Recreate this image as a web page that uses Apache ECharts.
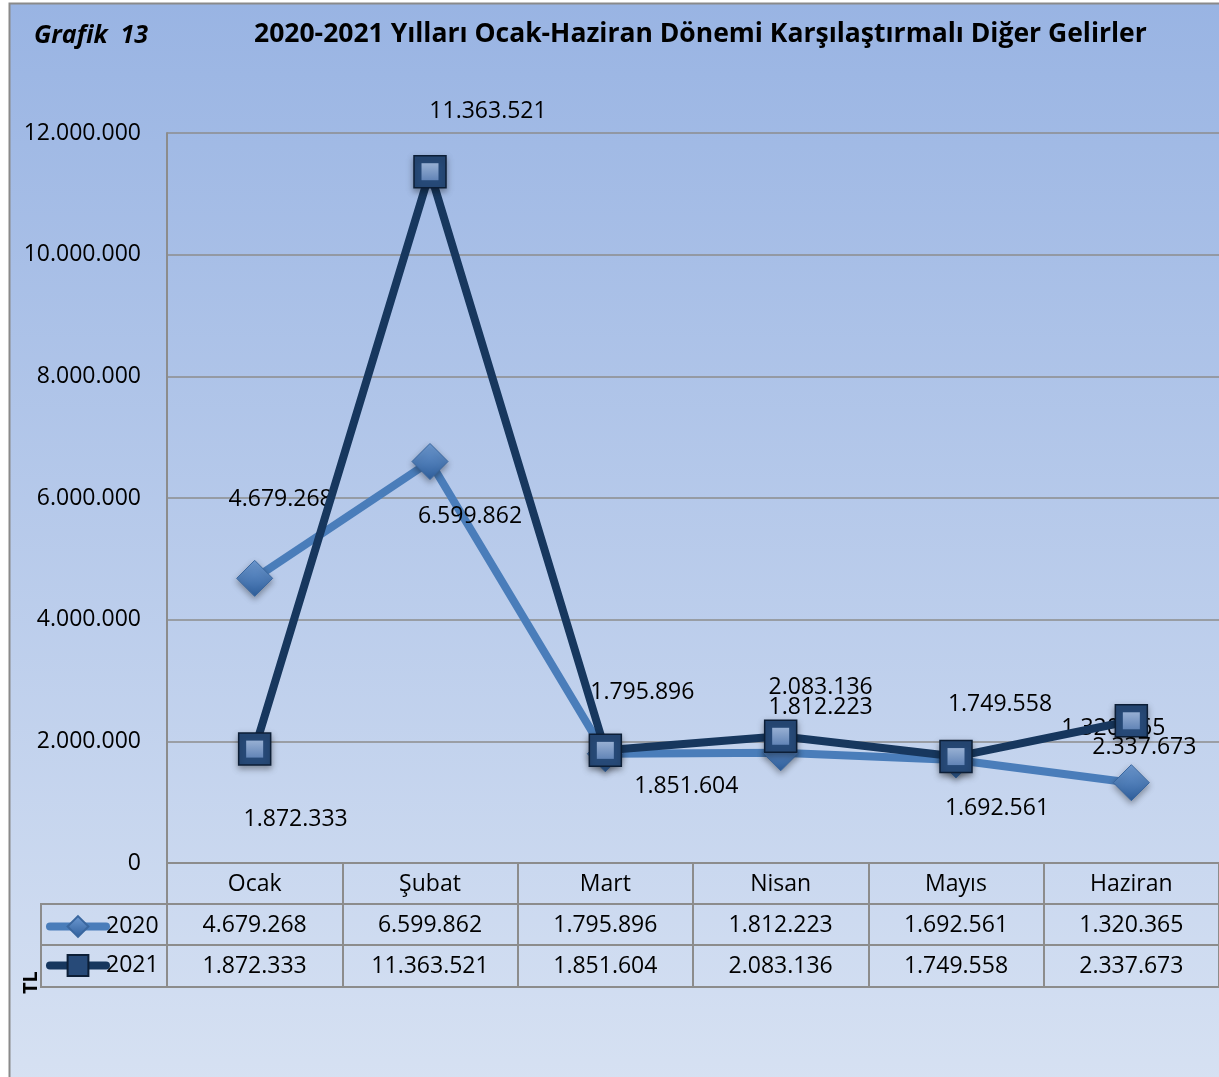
<!DOCTYPE html>
<html>
<head>
<meta charset="utf-8">
<script src="https://cdn.jsdelivr.net/npm/echarts@6/dist/echarts.min.js"></script>
<style>
  html, body { margin: 0; padding: 0; background: #fff; }
  #chart { width: 1219px; height: 1077px; }
</style>
</head>
<body>
<div id="chart"></div>
<script>
// veriler
const months = ['Ocak', 'Şubat', 'Mart', 'Nisan', 'Mayıs', 'Haziran']
const years = ['2020', '2021']
const values2020 = [4679268, 6599862, 1795896, 1812223, 1692561, 1320365]
const values2021 = [1872333, 11363521, 1851604, 2083136, 1749558, 2337673]
const yTicks = [0, 2000000, 4000000, 6000000, 8000000, 10000000, 12000000]

// etiket kaydırmaları (yerleşim)
const shift2020 = [[26, -79], [40, 55], [37, -61], [40, -45], [41, 48], [-18, -54]]
const shift2021 = [[41, 70], [58, -60], [81, 36], [40, -49], [44, -52], [13, 27]]

const FONT = 'Open Sans'
const FS = 23
const GRAY = '#8c8c8c'
const C2020 = '#4a7dba'
const C2021 = '#17375e'

// 1234567 -> 1.234.567
const fmt = v => String(v).replace(/\B(?=(\d{3})+(?!\d))/g, '.')

const chart = echarts.init(document.getElementById('chart'))

const withLabels = (vals, shifts) => vals.map((v, i) => ({
  value: v,
  label: { offset: shifts[i] }
}))

const labelStyle = {
  show: true,
  position: 'inside',
  formatter: p => fmt(p.value),
  fontFamily: FONT,
  fontSize: FS,
  color: '#000'
}

const tableAxis = (data, offset) => ({
  type: 'category',
  position: 'bottom',
  offset: offset,
  data: data,
  axisLine: { show: true, lineStyle: { color: GRAY, width: 2 } },
  axisTick: { show: false },
  axisLabel: { margin: 10, fontFamily: FONT, fontSize: FS, color: '#000', interval: 0 }
})

const option = {
  animation: false,
  textStyle: { fontFamily: FONT },
  title: [
    {
      text: 'Grafik  13', left: 29, top: 18,
      textStyle: { fontFamily: FONT, fontSize: 25, fontWeight: 'bold', fontStyle: 'italic', color: '#000' }
    },
    {
      text: '2020-2021 Yılları Ocak-Haziran Dönemi Karşılaştırmalı Diğer Gelirler', left: 249, top: 16,
      textStyle: { fontFamily: FONT, fontSize: 26.5, fontWeight: 'bold', color: '#000' }
    }
  ],
  legend: {
    orient: 'vertical',
    left: 46, top: 915, padding: 0,
    itemWidth: 56, itemHeight: 26, itemGap: 16,
    data: years,
    lineStyle: { width: 8, cap: 'round' },
    textStyle: { fontFamily: FONT, fontSize: FS, color: '#000', padding: [0, 0, 0, -5] }
  },
  grid: { left: 167, top: 133, right: 0, bottom: 214 },
  xAxis: [
    {
      type: 'category',
      data: months,
      axisLine: { show: true, lineStyle: { color: GRAY, width: 2 } },
      axisTick: { show: true, length: 124, alignWithLabel: false, lineStyle: { color: GRAY, width: 2 } },
      axisLabel: { margin: 10, fontFamily: FONT, fontSize: FS, color: '#000', interval: 0 }
    },
    tableAxis(values2020.map(fmt), 41),
    tableAxis(values2021.map(fmt), 82),
    Object.assign(tableAxis(months.map(() => ''), 124), { axisLabel: { show: false } })
  ],
  yAxis: {
    type: 'value',
    min: yTicks[0],
    max: yTicks[yTicks.length - 1],
    interval: 2000000,
    axisLine: { show: true, lineStyle: { color: GRAY, width: 2 } },
    axisTick: { show: false },
    splitLine: { show: true, lineStyle: { color: GRAY, width: 1.5 } },
    axisLabel: { margin: 26, fontFamily: FONT, fontSize: FS, color: '#000', formatter: v => fmt(v) }
  },
  series: [
    {
      name: '2020',
      type: 'line',
      z: 3,
      data: withLabels(values2020, shift2020),
      symbol: 'diamond',
      symbolSize: 36,
      lineStyle: { color: C2020, width: 8 },
      itemStyle: {
        color: {
          type: 'linear', x: 0, y: 0, x2: 0, y2: 1,
          colorStops: [{ offset: 0, color: '#6f9bd3' }, { offset: 1, color: '#2f5f9c' }]
        },
        borderColor: '#3a679f', borderWidth: 1,
        shadowBlur: 6, shadowColor: 'rgba(0,0,0,0.35)', shadowOffsetY: 3
      },
      label: labelStyle
    },
    {
      name: '2021',
      type: 'line',
      z: 4,
      data: withLabels(values2021, shift2021),
      symbol: 'rect',
      symbolSize: 32,
      lineStyle: { color: C2021, width: 8 },
      itemStyle: {
        color: '#274a78',
        borderColor: '#0c1e36', borderWidth: 1.5,
        shadowBlur: 6, shadowColor: 'rgba(0,0,0,0.35)', shadowOffsetY: 3
      },
      label: labelStyle
    },
    {
      // 2021 işaretçisinin açık renkli iç karesi
      name: '2021 iç',
      type: 'scatter',
      z: 5,
      silent: true,
      data: values2021,
      symbol: 'rect',
      symbolSize: 17,
      itemStyle: {
        color: {
          type: 'linear', x: 0, y: 0, x2: 0, y2: 1,
          colorStops: [{ offset: 0, color: '#b3c9ea' }, { offset: 1, color: '#7193c6' }]
        }
      }
    }
  ],
  graphic: [
    {
      // arka plan ve çerçeve
      type: 'rect', z: -10, silent: true,
      shape: { x: 9.5, y: 3.5, width: 1300, height: 1200 },
      style: {
        fill: {
          type: 'linear', x: 0, y: 0, x2: 0, y2: 1,
          colorStops: [{ offset: 0, color: '#99b4e3' }, { offset: 1, color: '#dde6f4' }]
        },
        stroke: '#8a8a8a', lineWidth: 2
      }
    },
    // gösterge sütunu çizgileri
    { type: 'line', silent: true, shape: { x1: 41, y1: 904, x2: 167, y2: 904 }, style: { stroke: GRAY, lineWidth: 2 } },
    { type: 'line', silent: true, shape: { x1: 41, y1: 945, x2: 167, y2: 945 }, style: { stroke: GRAY, lineWidth: 2 } },
    { type: 'line', silent: true, shape: { x1: 41, y1: 987, x2: 167, y2: 987 }, style: { stroke: GRAY, lineWidth: 2 } },
    { type: 'line', silent: true, shape: { x1: 41, y1: 903, x2: 41, y2: 988 }, style: { stroke: GRAY, lineWidth: 2 } },
    {
      type: 'text', silent: true,
      x: 31, y: 994, rotation: Math.PI / 2,
      style: { text: 'TL', fontFamily: FONT, fontSize: 20, fontWeight: 'bold', fill: '#000', align: 'left', verticalAlign: 'middle' }
    }
  ]
}

chart.setOption(option)
</script>
</body>
</html>
